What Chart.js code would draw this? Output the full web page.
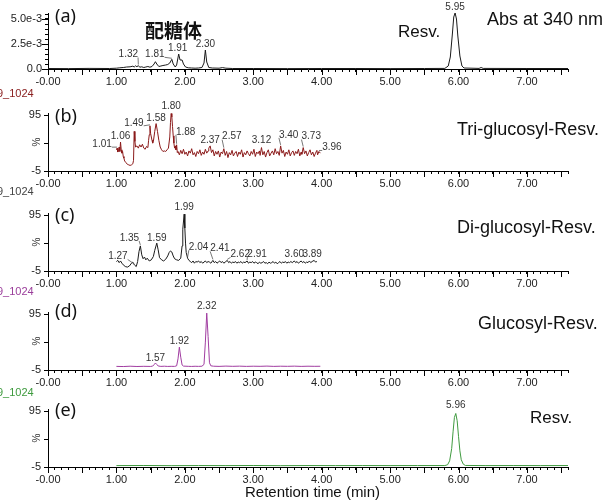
<!DOCTYPE html>
<html>
<head>
<meta charset="utf-8">
<title>HPLC chromatograms</title>
<style>
  body { margin: 0; background: #fff; }
  #stage { position: relative; width: 611px; height: 504px; overflow: hidden; background: #fff; font-family: "Liberation Sans", Arial, sans-serif; }
  #stage canvas { position: absolute; left: 0; }
  .txt { position: absolute; white-space: nowrap; line-height: 1; color: #111; }
  .tag { font-family: "Noto Sans", sans-serif; font-size: 18px; left: 55px; }
  .run { font-size: 11px; left: -3px; }
  .name { font-size: 18px; }
</style>
</head>
<body>
<div id="stage">
  <canvas id="pa"></canvas>
  <canvas id="pb"></canvas>
  <canvas id="pc"></canvas>
  <canvas id="pd"></canvas>
  <canvas id="pe"></canvas>

  <div class="txt tag" style="top:6px">(a)</div>
  <div class="txt tag" style="top:106px">(b)</div>
  <div class="txt tag" style="top:205px">(c)</div>
  <div class="txt tag" style="top:301px">(d)</div>
  <div class="txt tag" style="top:400px">(e)</div>

  <div class="txt run" style="top:88px;color:#8b2020">9_1024</div>
  <div class="txt run" style="top:186px;color:#444">9_1024</div>
  <div class="txt run" style="top:286px;color:#9a3d9a">9_1024</div>
  <div class="txt run" style="top:387px;color:#3d9a3d">9_1024</div>

  <div class="txt" style="left:145px;top:20px;font:bold 19px 'Noto Sans CJK JP',sans-serif;line-height:1">配糖体</div>
  <div class="txt" style="left:398px;top:23px;font-size:17px">Resv.</div>
  <div class="txt name" style="left:487px;top:10px">Abs at 340 nm</div>
  <div class="txt name" style="left:457px;top:120px">Tri-glucosyl-Resv.</div>
  <div class="txt name" style="left:457px;top:218px">Di-glucosyl-Resv.</div>
  <div class="txt name" style="left:478px;top:314px">Glucosyl-Resv.</div>
  <div class="txt" style="left:530px;top:409px;font-size:17px">Resv.</div>
  <div class="txt" style="left:245px;top:484px;font-size:15px">Retention time (min)</div>
</div>
<script src="https://cdn.jsdelivr.net/npm/chart.js"></script>
<script>
// retention time (min), absorbance (AU) at 340 nm
const traceA = [
  [0.00, 0.00005], [0.30, 0.00004], [0.60, 0.00006], [0.90, 0.00005], [1.00, 0.00008],
  [1.05, 0.00012], [1.10, 0.00015], [1.15, 0.0002], [1.20, 0.00022], [1.24, 0.00028],
  [1.26, 0.0002], [1.28, 0.00032], [1.30, 0.00022], [1.32, 0.00035], [1.34, 0.00018],
  [1.37, 0.00022], [1.40, 0.00015], [1.43, 0.0002], [1.46, 0.00025], [1.49, 0.00018],
  [1.52, 0.00025], [1.55, 0.0005], [1.57, 0.00073], [1.59, 0.0005], [1.62, 0.00025],
  [1.65, 0.0003], [1.68, 0.00035], [1.72, 0.0004], [1.75, 0.00045], [1.78, 0.0006],
  [1.81, 0.00097], [1.83, 0.0005], [1.86, 0.0002], [1.88, 0.0004], [1.91, 0.0015],
  [1.93, 0.0009], [1.96, 0.0009], [1.98, 0.0005], [2.01, 0.0002], [2.05, 0.00012],
  [2.10, 0.0001], [2.15, 0.00008], [2.20, 0.0001], [2.25, 0.00015], [2.28, 0.0006],
  [2.30, 0.0019], [2.32, 0.0007], [2.35, 0.00015], [2.40, 0.0001], [2.50, 0.00008],
  [2.55, 0.00014], [2.60, 0.00008], [2.70, 0.00005], [3.00, 0.00005], [3.50, 0.00004],
  [4.00, 0.00005], [4.50, 0.00005], [5.00, 0.00004], [5.50, 0.00005], [5.80, 0.00006],
  [5.85, 0.0003], [5.88, 0.0012], [5.91, 0.0035], [5.93, 0.0052], [5.95, 0.0056],
  [5.97, 0.005], [5.99, 0.0033], [6.02, 0.0013], [6.05, 0.0003], [6.08, 0.0001],
  [6.30, 0.00006], [6.33, 0.00015], [6.36, 0.00006], [7.00, 0.00005], [7.60, 0.00005]
];
const peaksA = [1.32, 1.81, 1.91, 2.30, 5.95];

// relative intensity (%)
const traceB = [
  [1.00, 33], [1.01, 36], [1.02, 29], [1.03, 31], [1.04, 38], [1.05, 30], [1.06, 47], [1.07, 33],
  [1.08, 27], [1.09, 30], [1.10, 21], [1.11, 18], [1.12, 13], [1.14, 10], [1.16, 7], [1.18, 6],
  [1.20, 5], [1.22, 6], [1.24, 8], [1.25, 14], [1.26, 66], [1.27, 48], [1.28, 38], [1.30, 40],
  [1.32, 36], [1.34, 42], [1.36, 38], [1.38, 43], [1.40, 36], [1.42, 34], [1.44, 39], [1.46, 37],
  [1.47, 50], [1.48, 60], [1.49, 76], [1.50, 62], [1.52, 50], [1.53, 45], [1.54, 48], [1.56, 66],
  [1.58, 80], [1.60, 66], [1.62, 50], [1.64, 38], [1.66, 33], [1.68, 30], [1.70, 31], [1.72, 30],
  [1.74, 33], [1.76, 36], [1.78, 56], [1.79, 82], [1.80, 98], [1.81, 92], [1.82, 75], [1.83, 58],
  [1.84, 45], [1.85, 36], [1.86, 40], [1.87, 33], [1.88, 42], [1.89, 28], [1.90, 30], [1.92, 24],
  [1.94, 32], [1.96, 26], [1.98, 34], [2.00, 25], [2.02, 29], [2.04, 22], [2.06, 31], [2.08, 27],
  [2.10, 35], [2.12, 24], [2.14, 28], [2.16, 21], [2.18, 30], [2.20, 26], [2.22, 33], [2.24, 23],
  [2.26, 29], [2.28, 25], [2.30, 34], [2.32, 27], [2.34, 31], [2.35, 36], [2.37, 40], [2.39, 28],
  [2.41, 33], [2.43, 22], [2.45, 30], [2.47, 25], [2.49, 31], [2.51, 20], [2.53, 29], [2.55, 26],
  [2.57, 35], [2.59, 23], [2.61, 30], [2.63, 19], [2.65, 28], [2.67, 24], [2.69, 32], [2.71, 22],
  [2.73, 27], [2.75, 30], [2.77, 21], [2.79, 29], [2.81, 25], [2.83, 33], [2.85, 20], [2.87, 28],
  [2.89, 24], [2.91, 31], [2.93, 26], [2.95, 22], [2.97, 30], [2.99, 25], [3.01, 34], [3.03, 21],
  [3.05, 29], [3.07, 26], [3.09, 31], [3.10, 23], [3.12, 37], [3.14, 24], [3.16, 30], [3.18, 20],
  [3.20, 28], [3.22, 33], [3.24, 22], [3.26, 27], [3.28, 31], [3.30, 24], [3.32, 35], [3.34, 26],
  [3.36, 30], [3.38, 23], [3.40, 40], [3.42, 27], [3.44, 32], [3.46, 21], [3.48, 29], [3.50, 25],
  [3.52, 33], [3.54, 22], [3.56, 28], [3.58, 31], [3.60, 23], [3.62, 30], [3.64, 26], [3.66, 34],
  [3.68, 22], [3.70, 29], [3.71, 25], [3.73, 37], [3.75, 26], [3.77, 31], [3.79, 22], [3.81, 28],
  [3.83, 33], [3.85, 24], [3.87, 29], [3.89, 21], [3.91, 27], [3.93, 32], [3.94, 24], [3.96, 30],
  [3.98, 27]
];
const peaksB = [1.01, 1.06, 1.49, 1.58, 1.80, 1.88, 2.37, 2.57, 3.12, 3.40, 3.73, 3.96];

const traceC = [
  [1.00, 12], [1.02, 14], [1.04, 10], [1.06, 13], [1.08, 9], [1.10, 6], [1.13, 3], [1.16, 2],
  [1.19, 4], [1.22, 9], [1.24, 11], [1.25, 8], [1.27, 5], [1.29, 3], [1.31, 12], [1.33, 30],
  [1.35, 40], [1.37, 24], [1.39, 17], [1.41, 20], [1.43, 15], [1.45, 18], [1.48, 13], [1.51, 15],
  [1.54, 21], [1.56, 32], [1.59, 45], [1.61, 33], [1.63, 19], [1.66, 15], [1.69, 13], [1.72, 16],
  [1.75, 22], [1.77, 28], [1.79, 31], [1.81, 29], [1.83, 22], [1.85, 17], [1.88, 15], [1.91, 14],
  [1.94, 18], [1.96, 40], [1.97, 70], [1.99, 97], [2.00, 72], [2.01, 45], [2.02, 28], [2.04, 18],
  [2.06, 14], [2.08, 12], [2.10, 10], [2.12, 13], [2.14, 9], [2.16, 12], [2.18, 11], [2.20, 13],
  [2.22, 10], [2.24, 12], [2.26, 9], [2.28, 11], [2.30, 13], [2.32, 10], [2.34, 12], [2.36, 11],
  [2.38, 9], [2.41, 14], [2.43, 10], [2.45, 12], [2.47, 9], [2.49, 11], [2.51, 13], [2.53, 10],
  [2.55, 12], [2.57, 9], [2.59, 11], [2.62, 14], [2.64, 10], [2.66, 12], [2.68, 9], [2.70, 11],
  [2.72, 10], [2.74, 12], [2.76, 9], [2.78, 11], [2.80, 10], [2.82, 12], [2.84, 9], [2.86, 11],
  [2.88, 10], [2.91, 13], [2.93, 9], [2.95, 11], [2.97, 10], [2.99, 12], [3.01, 9], [3.03, 11],
  [3.05, 10], [3.07, 8], [3.09, 11], [3.11, 9], [3.13, 10], [3.15, 12], [3.17, 9], [3.19, 10],
  [3.21, 8], [3.23, 11], [3.25, 9], [3.27, 10], [3.29, 12], [3.31, 9], [3.33, 11], [3.35, 8],
  [3.37, 10], [3.39, 12], [3.41, 9], [3.43, 11], [3.45, 10], [3.47, 12], [3.49, 9], [3.51, 11],
  [3.53, 10], [3.55, 12], [3.57, 10], [3.60, 13], [3.62, 10], [3.64, 12], [3.66, 9], [3.68, 11],
  [3.70, 13], [3.72, 10], [3.74, 12], [3.76, 9], [3.78, 11], [3.80, 10], [3.82, 13], [3.84, 10],
  [3.86, 12], [3.89, 14], [3.91, 11], [3.93, 12]
];
const peaksC = [1.27, 1.35, 1.59, 1.99, 2.04, 2.41, 2.62, 2.91, 3.60, 3.89];

const traceD = [
  [1.00, 1.5], [1.10, 1.2], [1.20, 1.8], [1.30, 1.3], [1.40, 1.6], [1.50, 1.4], [1.53, 2],
  [1.55, 4.5], [1.57, 7.5], [1.59, 5], [1.61, 2.2], [1.65, 1.5], [1.70, 1.8], [1.75, 1.4],
  [1.80, 1.6], [1.85, 1.5], [1.88, 2.5], [1.90, 15], [1.92, 36], [1.94, 18], [1.96, 4],
  [1.98, 2], [2.05, 1.6], [2.10, 1.4], [2.15, 1.7], [2.20, 1.5], [2.25, 1.8], [2.28, 5],
  [2.30, 45], [2.32, 97], [2.34, 55], [2.36, 8], [2.38, 2.5], [2.42, 1.8], [2.50, 1.5],
  [2.60, 2], [2.70, 1.6], [2.80, 1.9], [2.90, 1.5], [3.00, 1.8], [3.10, 1.6], [3.20, 2],
  [3.30, 1.5], [3.40, 1.8], [3.50, 1.6], [3.60, 1.9], [3.70, 1.5], [3.80, 1.8], [3.90, 1.6],
  [3.98, 1.7]
];
const peaksD = [1.57, 1.92, 2.32];

const traceE = [
  [1.00, -2.5], [1.40, -2.3], [1.80, -2.6], [2.20, -2.4], [2.60, -2.5], [3.00, -2.3],
  [3.40, -2.6], [3.80, -2.4], [4.20, -2.5], [4.60, -2.4], [5.00, -2.5], [5.40, -2.4],
  [5.80, -2.4], [5.84, -1], [5.87, 6], [5.90, 28], [5.92, 58], [5.94, 84], [5.96, 91],
  [5.98, 78], [6.00, 50], [6.02, 24], [6.04, 8], [6.07, 0], [6.10, -2.2], [6.40, -2.5],
  [6.80, -2.4], [7.20, -2.5], [7.60, -2.4]
];
const peaksE = [5.96];

// axis ticks
const xTickValues = Array.from({ length: 77 }, (_, i) => i / 10);
const yTicksAbs = [0, 0.0005, 0.001, 0.0015, 0.002, 0.0025, 0.003, 0.0035, 0.004, 0.0045, 0.005, 0.0055];
const yTicksPct = [-5, 45, 95];

// label offsets (px) of each peak label from its apex
const shiftsA = [[-10, -11], [-17, -5], [-1, -6], [0, -6], [0, -6]];
const shiftsB = [[-15, -4], [0, -6], [-16, -3], [0, -5], [0, -7], [9, -13], [0, -6], [8, -12], [0, -7], [8, -11], [8, -11], [13, -4]];
const shiftsC = [[-17, -9], [-11, -8], [0, -5], [0, -7], [11, -11], [7, -12], [13, -6], [10, -7], [0, -7], [-2, -6]];
const shiftsD = [[0, -5], [0, -6], [0, -7]];
const shiftsE = [[0, -8]];

Chart.defaults.font.family = '"Liberation Sans", Arial, sans-serif';
Chart.defaults.color = '#222';

function xLabel(v) {
  const k = Math.round(v * 10);
  if (k % 10) return '';
  return k === 0 ? '-0.00' : (k / 10).toFixed(2);
}
function absLabel(v) {
  const k = Math.round(v * 10000);
  if (k === 0) return '0.0';
  if (k === 25) return '2.5e-3';
  if (k === 50) return '5.0e-3';
  return '';
}
function pctLabel(v) {
  return v === 45 ? '' : String(v);
}

// longer marks on the x axis every 0.5 min (and on labelled y ticks when asked)
function majorTicks(longY) {
  return {
    id: 'majorTicks',
    afterDraw(chart) {
      const { ctx, chartArea, scales: { x, y } } = chart;
      ctx.save();
      ctx.strokeStyle = '#000';
      ctx.lineWidth = 1;
      ctx.beginPath();
      x.ticks.forEach(t => {
        if (Math.round(t.value * 10) % 5 === 0) {
          const px = Math.round(x.getPixelForValue(t.value)) + 0.5;
          ctx.moveTo(px, chartArea.bottom);
          ctx.lineTo(px, chartArea.bottom + 6);
        }
      });
      if (longY) {
        y.ticks.forEach(t => {
          if (t.label) {
            const py = Math.round(y.getPixelForValue(t.value)) + 0.5;
            ctx.moveTo(chartArea.left, py);
            ctx.lineTo(chartArea.left - 6, py);
          }
        });
      }
      ctx.stroke();
      ctx.restore();
    }
  };
}

function peakLabels(trace, peaks, shifts) {
  return {
    id: 'peakLabels',
    afterDatasetsDraw(chart) {
      const { ctx, scales: { x, y } } = chart;
      ctx.save();
      ctx.font = '10px "Liberation Sans", Arial, sans-serif';
      ctx.fillStyle = '#333';
      ctx.strokeStyle = '#555';
      ctx.lineWidth = 0.8;
      ctx.textAlign = 'center';
      ctx.textBaseline = 'middle';
      peaks.forEach((t, i) => {
        const pt = trace.find(p => Math.abs(p[0] - t) < 1e-6);
        const px = x.getPixelForValue(t);
        const py = y.getPixelForValue(pt[1]);
        const [dx, dy] = shifts[i];
        const text = t.toFixed(2);
        const lx = px + dx, ly = py + dy;
        ctx.fillText(text, lx, ly);
        if (Math.abs(dx) > 5) {
          const hw = ctx.measureText(text).width / 2;
          const sx = dx < 0 ? lx + hw : lx - hw;
          ctx.beginPath();
          ctx.moveTo(sx, ly + 3);
          ctx.lineTo(px, py - 1);
          ctx.stroke();
        }
      });
      ctx.restore();
    }
  };
}

const panels = [
  { canvas: 'pa', top: 0, height: 92, axisY: 69, plotH: 56, color: '#1a1a1a',
    trace: traceA, peaks: peaksA, shifts: shiftsA,
    yMin: 0, yMax: 0.0056, yTicks: yTicksAbs, yLabel: absLabel, yTickLen: 3, pct: false },
  { canvas: 'pb', top: 96, height: 94, axisY: 171, plotH: 58, color: '#8b1a1a',
    trace: traceB, peaks: peaksB, shifts: shiftsB,
    yMin: -5, yMax: 99, yTicks: yTicksPct, yLabel: pctLabel, yTickLen: 4, pct: true },
  { canvas: 'pc', top: 196, height: 94, axisY: 271, plotH: 58, color: '#1a1a1a',
    trace: traceC, peaks: peaksC, shifts: shiftsC,
    yMin: -5, yMax: 99, yTicks: yTicksPct, yLabel: pctLabel, yTickLen: 4, pct: true },
  { canvas: 'pd', top: 296, height: 93, axisY: 370, plotH: 58, color: '#a03ca0',
    trace: traceD, peaks: peaksD, shifts: shiftsD,
    yMin: -5, yMax: 99, yTicks: yTicksPct, yLabel: pctLabel, yTickLen: 4, pct: true },
  { canvas: 'pe', top: 394, height: 110, axisY: 467, plotH: 58, color: '#3f9a3f',
    trace: traceE, peaks: peaksE, shifts: shiftsE,
    yMin: -5, yMax: 99, yTicks: yTicksPct, yLabel: pctLabel, yTickLen: 4, pct: true }
];

panels.forEach(p => {
  const canvas = document.getElementById(p.canvas);
  canvas.width = 611;
  canvas.height = p.height;
  canvas.style.top = p.top + 'px';
  const padTop = p.axisY - p.plotH - p.top;
  const xAxisH = p.height - (p.axisY - p.top);

  new Chart(canvas, {
    type: 'line',
    data: {
      datasets: [{
        data: p.trace.map(([t, v]) => ({ x: t, y: v })),
        borderColor: p.color,
        borderWidth: 1,
        pointRadius: 0,
        tension: 0,
        fill: false
      }]
    },
    options: {
      responsive: false,
      animation: false,
      devicePixelRatio: 1,
      layout: { padding: { top: padTop, left: 0, right: 43, bottom: 0 } },
      plugins: { legend: { display: false }, tooltip: { enabled: false } },
      scales: {
        x: {
          type: 'linear',
          min: 0,
          max: 7.6,
          afterBuildTicks: s => { s.ticks = xTickValues.map(v => ({ value: v })); },
          afterFit: s => { s.height = xAxisH; },
          ticks: { autoSkip: false, maxRotation: 0, padding: 3, color: '#222', font: { size: 11 }, callback: xLabel },
          grid: { drawOnChartArea: false, tickLength: 3, tickColor: '#000' },
          border: { color: '#000', width: 1 }
        },
        y: {
          min: p.yMin,
          max: p.yMax,
          afterBuildTicks: s => { s.ticks = p.yTicks.map(v => ({ value: v })); },
          afterFit: s => { s.width = 48; },
          ticks: { autoSkip: false, padding: 3, color: '#222', font: { size: 11 }, callback: p.yLabel },
          grid: { drawOnChartArea: false, tickLength: p.yTickLen, tickColor: '#000' },
          border: { color: '#000', width: 1 },
          title: { display: p.pct, text: '%', color: '#333', font: { size: 10 }, padding: { top: 31, bottom: 0 } }
        }
      }
    },
    plugins: [majorTicks(!p.pct), peakLabels(p.trace, p.peaks, p.shifts)]
  });
});
</script>
</body>
</html>
